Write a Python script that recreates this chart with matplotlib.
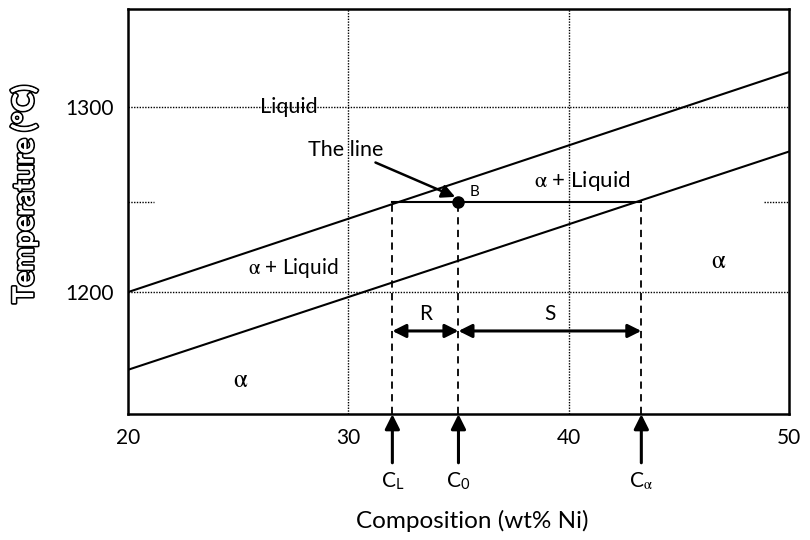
"""Cu-Ni phase diagram detail with lever-rule tie line."""
import matplotlib
matplotlib.use("Agg")
import matplotlib.pyplot as plt
import matplotlib.patheffects as pe

plt.rcParams["font.family"] = ["Lato", "DejaVu Sans"]
plt.rcParams["mathtext.fontset"] = "stix"

# phase boundaries (wt% Ni, degC)
comp_ends = [20, 50]
liquidus_T = [1200, 1319]
solidus_T = [1158, 1276]

# tie line and compositions
tie_T = 1249
C_L, C_0, C_alpha = 32.0, 35.0, 43.3
arrow_T = 1179

xticks = [20, 30, 40, 50]
yticks = [1200, 1300]
grid_x = [30, 40]
grid_y = [1200, 1300]

ALPHA = r"$\mathrm{\alpha}$"

fig = plt.figure(figsize=(8.1, 5.4), dpi=100)
ax = fig.add_axes([0.158, 0.233, 0.816, 0.750])
ax.set_xlim(20, 50)
ax.set_ylim(1134, 1353)

for gx in grid_x:
    ax.axvline(gx, color="black", ls=(0, (1, 1)), lw=1, zorder=1)
for gy in grid_y:
    ax.axhline(gy, color="black", ls=(0, (1, 1)), lw=1, zorder=1)
# stubs of the 1250 gridline at both edges
ax.axhline(tie_T, xmin=0, xmax=0.04, color="black", ls=(0, (1, 1)), lw=1)
ax.axhline(tie_T, xmin=0.963, xmax=1, color="black", ls=(0, (1, 1)), lw=1)

ax.plot(comp_ends, liquidus_T, color="black", lw=1.5, zorder=3)
ax.plot(comp_ends, solidus_T, color="black", lw=1.5, zorder=3)

# tie line and dashed drops
ax.plot([C_L, C_alpha], [tie_T, tie_T], color="black", lw=1.5, zorder=3)
for c in (C_L, C_0, C_alpha):
    ax.plot([c, c], [1134, tie_T], color="black", lw=1.3, ls=(0, (4, 3)), zorder=3)
ax.plot(C_0, tie_T, "o", color="black", ms=8, zorder=4)
ax.text(C_0 + 0.5, tie_T + 1.5, "B", fontsize=11, va="bottom")

# R and S double arrows
head = dict(arrowstyle="<|-|>", color="black", lw=2.2, mutation_scale=20, shrinkA=0, shrinkB=0)
ax.annotate("", xy=(C_L, arrow_T), xytext=(C_0, arrow_T), arrowprops=head)
ax.annotate("", xy=(C_0, arrow_T), xytext=(C_alpha, arrow_T), arrowprops=head)
ax.text((C_L + C_0) / 2, arrow_T + 4, "R", fontsize=15, ha="center", va="bottom")
ax.text((C_0 + C_alpha) / 2, arrow_T + 4, "S", fontsize=15, ha="center", va="bottom")

# "The line" pointer
ax.annotate("The line", xy=(34.85, 1251.5), xytext=(31.6, 1277), fontsize=15.5,
            ha="right", va="center",
            arrowprops=dict(arrowstyle="-|>", color="black", lw=1.8, mutation_scale=20,
                            shrinkA=0, shrinkB=0))

# region labels
ax.text(27.3, 1300, "Liquid", fontsize=15.5, ha="center", va="center")
ax.text(27.5, 1213, ALPHA + " + Liquid", fontsize=15, ha="center", va="center")
ax.text(40.6, 1260, ALPHA + " + Liquid", fontsize=16, ha="center", va="center")
ax.text(46.8, 1217, ALPHA, fontsize=18, ha="center", va="center")
ax.text(25.1, 1153, ALPHA, fontsize=18, ha="center", va="center")

# composition arrows below the axis
labels = ["C$_\\mathregular{L}$", "C$_\\mathregular{0}$", "C$_\\mathrm{\\alpha}$"]
for c, lab in zip((C_L, C_0, C_alpha), labels):
    ax.annotate("", xy=(c, 0), xycoords=("data", "axes fraction"),
                xytext=(c, -0.12), textcoords=("data", "axes fraction"),
                arrowprops=dict(arrowstyle="-|>", color="black", lw=2.2,
                                mutation_scale=22, shrinkA=0, shrinkB=0))
    ax.text(c, -0.165, lab, transform=ax.get_xaxis_transform(), fontsize=15,
            ha="center", va="center")

ax.set_xticks(xticks)
ax.set_yticks(yticks)
ax.tick_params(length=0, labelsize=15, pad=10)
for s in ax.spines.values():
    s.set_linewidth(1.8)

fig.text(0.583, 0.035, "Composition (wt% Ni)", fontsize=17.5, ha="center", va="center")
ylab = fig.text(0.03, 0.64, "Temperature (\u00b0C)", fontsize=20.5, fontweight="bold",
                color="white", rotation=90, ha="center", va="center")
ylab.set_path_effects([pe.withStroke(linewidth=2.5, foreground="black"), pe.Normal()])

fig.savefig("out.png", dpi=100)
